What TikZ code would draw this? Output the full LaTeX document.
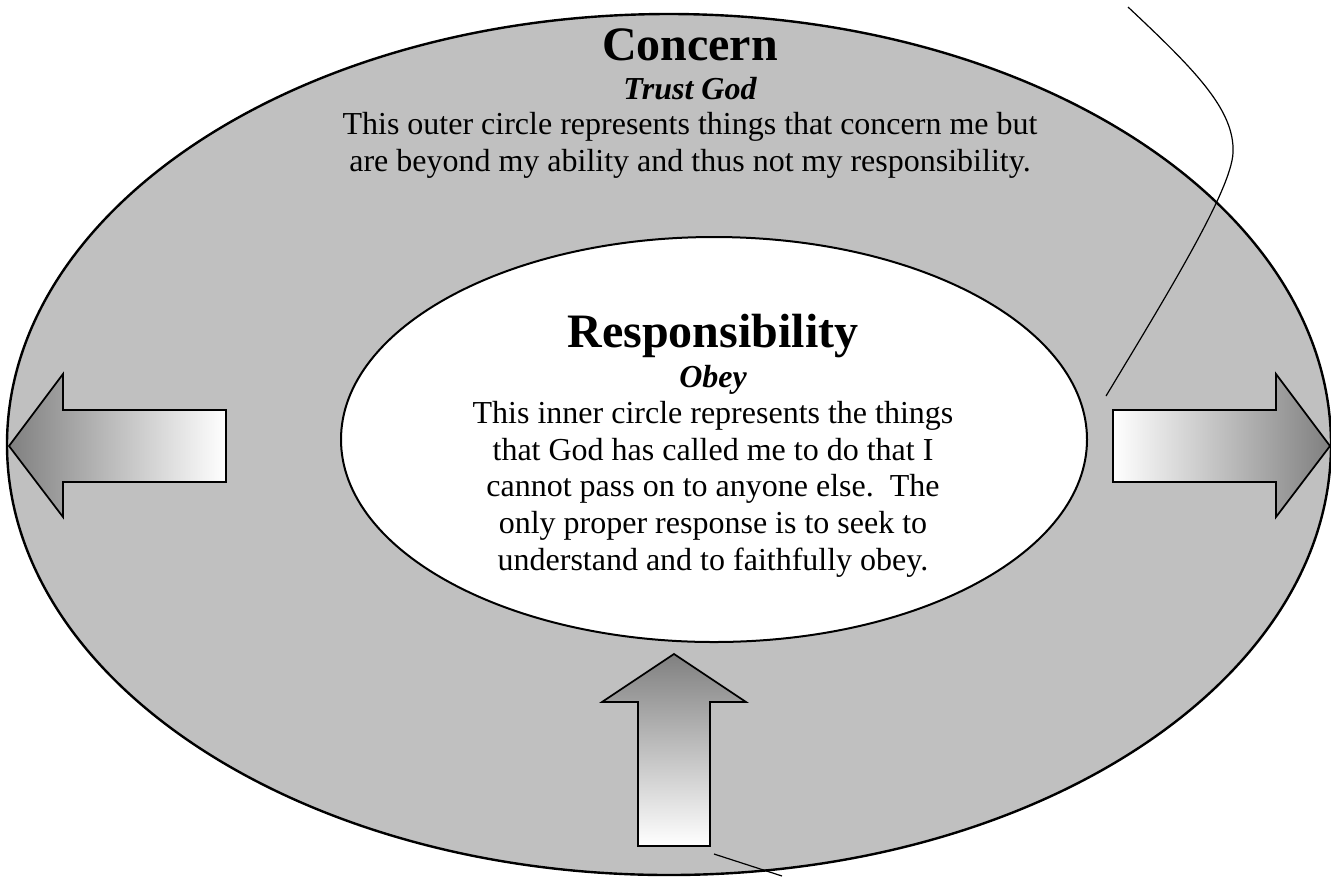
\documentclass[tikz,border=0pt]{standalone}
\usepackage{fontspec}
\setmainfont{Liberation Serif}
\usetikzlibrary{shapes.geometric}
\definecolor{silver}{HTML}{C0C0C0}
\definecolor{arrowgray}{HTML}{808080}

\begin{document}
\begin{tikzpicture}[x=0.75pt, y=-0.75pt,
                    ring/.style={ellipse, draw, line width=1.8pt, fill=silver, inner sep=0pt},
                    hole/.style={ellipse, draw, line width=1.5pt, fill=white, inner sep=0pt},
                    heading/.style={font=\bfseries\fontsize{36}{40}\selectfont, anchor=base, inner sep=0pt},
                    motto/.style={font=\bfseries\itshape\fontsize{24}{27}\selectfont, anchor=base, inner sep=0pt},
                    blurb/.style={font=\fontsize{24}{27.5}\selectfont, align=center, anchor=base, inner sep=0pt},
                    fatarrow/.style={draw, line width=1.3pt, line join=miter}]
  \useasboundingbox (0,0) rectangle (1331,876);
  \node[ring, minimum width=993pt, minimum height=645.75pt] (concern) at (669,444.5) {};
  \node[hole, minimum width=559.5pt, minimum height=303.75pt] (resp) at (714,439.5) {};
  % block arrows
  \shade[fatarrow, left color=arrowgray, right color=white] (9,446) -- (63,374) -- (63,410) -- (226,410) -- (226,482) -- (63,482) -- (63,517) -- cycle;
  \shade[fatarrow, left color=white, right color=arrowgray] (1330,446) -- (1276,374) -- (1276,410) -- (1113,410) -- (1113,482) -- (1276,482) -- (1276,517) -- cycle;
  \shade[fatarrow, top color=arrowgray, bottom color=white] (674,654) -- (746,702) -- (710,702) -- (710,846) -- (638,846) -- (638,702) -- (602,702) -- cycle;
  % texts (base of a wrapped text is its last line)
  \node[heading] (ctitle) at (690,60) {Concern};
  \node[motto] (cmotto) at (690,99) {Trust God};
  \node[blurb] (ctext) at (690,171) {This outer circle represents things that concern me but\\are beyond my ability and thus not my responsibility.};
  \node[heading] (rtitle) at (713,347) {Responsibility};
  \node[motto] (rmotto) at (713,387) {Obey};
  \node[blurb] (rtext) at (713,570) {This inner circle represents the things\\that God has called me to do that I\\cannot pass on to anyone else.\ \ The\\only proper response is to seek to\\understand and to faithfully obey.};
  % loose lines
  \coordinate (wisptop) at (1128,7);
  \coordinate (wispend) at (1106,396);
  \draw[line width=0.9pt] (wisptop) .. controls (1195,70) and (1235,110) .. (1233,153) .. controls (1231,190) and (1170,290) .. (wispend);
  \coordinate (stubtop) at (714,854);
  \coordinate (stubend) at (782,876);
  \draw[line width=0.9pt] (stubtop) -- (stubend);
\end{tikzpicture}
\end{document}
